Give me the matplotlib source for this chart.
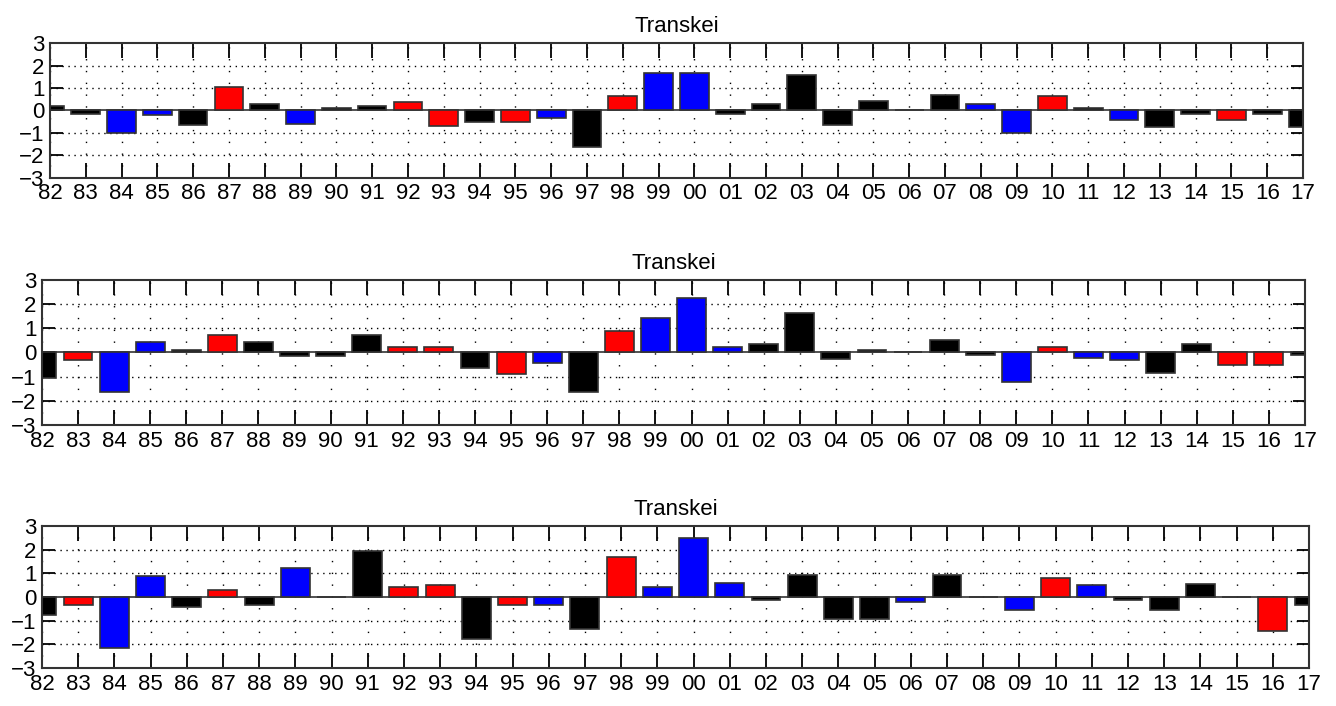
import matplotlib as mpl
mpl.use('Agg')
import matplotlib.pyplot as plt
import numpy as np

plt.rcParams['font.family'] = ['Liberation Sans', 'DejaVu Sans']

years = ['82', '83', '84', '85', '86', '87', '88', '89', '90', '91', '92', '93',
         '94', '95', '96', '97', '98', '99', '00', '01', '02', '03', '04', '05',
         '06', '07', '08', '09', '10', '11', '12', '13', '14', '15', '16', '17']

vals1 = [0.20, -0.15, -0.98, -0.22, -0.63, 1.06, 0.30, -0.60, 0.10, 0.20, 0.38, -0.70,
         -0.53, -0.53, -0.33, -1.62, 0.65, 1.67, 1.67, -0.15, 0.30, 1.56, -0.63, 0.41,
         0.02, 0.68, 0.30, -0.98, 0.65, 0.09, -0.42, -0.73, -0.15, -0.42, -0.15, -0.73]
cols1 = 'kkbbkrkbkkrrkrbkrbbkkkkkkkbbrkbkkrkk'

vals2 = [-1.04, -0.32, -1.63, 0.42, 0.12, 0.72, 0.43, -0.14, -0.14, 0.74, 0.22, 0.22,
         -0.64, -0.89, -0.42, -1.64, 0.89, 1.43, 2.24, 0.21, 0.33, 1.64, -0.25, 0.11,
         0.02, 0.53, -0.12, -1.22, 0.22, -0.22, -0.33, -0.83, 0.33, -0.53, -0.53, -0.11]
cols2 = 'krbbkrkkkkrrkrbkrbbbkkkkkkkbrbbkkrrk'

vals3 = [-0.74, -0.33, -2.14, 0.90, -0.43, 0.31, -0.34, 1.21, 0.0, 1.96, 0.41, 0.49,
         -1.76, -0.33, -0.33, -1.36, 1.70, 0.41, 2.51, 0.60, -0.14, 0.91, -0.94, -0.94,
         -0.23, 0.91, 0.0, -0.54, 0.80, 0.51, -0.14, -0.54, 0.53, 0.0, -1.44, -0.34]
cols3 = 'krbbkrkbkkrrkrbkrbbbkkkkbkkbrbkkkkrk'

title = 'Transkei'
cmap = {'r': '#ff0000', 'b': '#0000ff', 'k': '#000000'}

fig = plt.figure(figsize=(13.36, 7.06), dpi=100)
boxes = [[0.0374, 0.748, 0.9379, 0.191],
         [0.0314, 0.398, 0.9454, 0.2055],
         [0.0314, 0.0538, 0.9484, 0.2012]]

x = np.arange(len(years))
for box, vals, cols in zip(boxes, [vals1, vals2, vals3], [cols1, cols2, cols3]):
    ax = fig.add_axes(box)
    ax.set_xlim(0, len(years) - 1)
    ax.set_ylim(-3, 3)
    ax.axhline(0, color='#333333', lw=1.2, zorder=1)
    for yy in [-2, -1, 1, 2]:
        ax.axhline(yy, color='black', lw=1.0, ls=(0, (1, 3.3)), zorder=0)
    for xx in x:
        ax.axvline(xx, color='black', lw=1.0, ls=(0, (1, 7.5)), zorder=0)
    ax.bar(x, vals, width=0.8, color=[cmap[c] for c in cols],
           edgecolor='#333333', linewidth=1.2, zorder=2)
    ax.set_xticks(x)
    ax.set_xticklabels(years, fontsize=16)
    ax.set_yticks([-3, -2, -1, 0, 1, 2, 3])
    ax.set_yticklabels(['\u22123', '\u22122', '\u22121', '0', '1', '2', '3'], fontsize=16)
    ax.tick_params(axis='x', direction='in', length=11, width=1.3,
                   top=True, bottom=True, pad=4)
    ax.tick_params(axis='y', direction='in', length=9, width=1.3,
                   left=True, right=True, pad=4)
    for s in ax.spines.values():
        s.set_linewidth(1.5)
        s.set_color('#333333')
    ax.set_title(title, fontsize=16, pad=8)

plt.savefig('out.png', dpi=100)
